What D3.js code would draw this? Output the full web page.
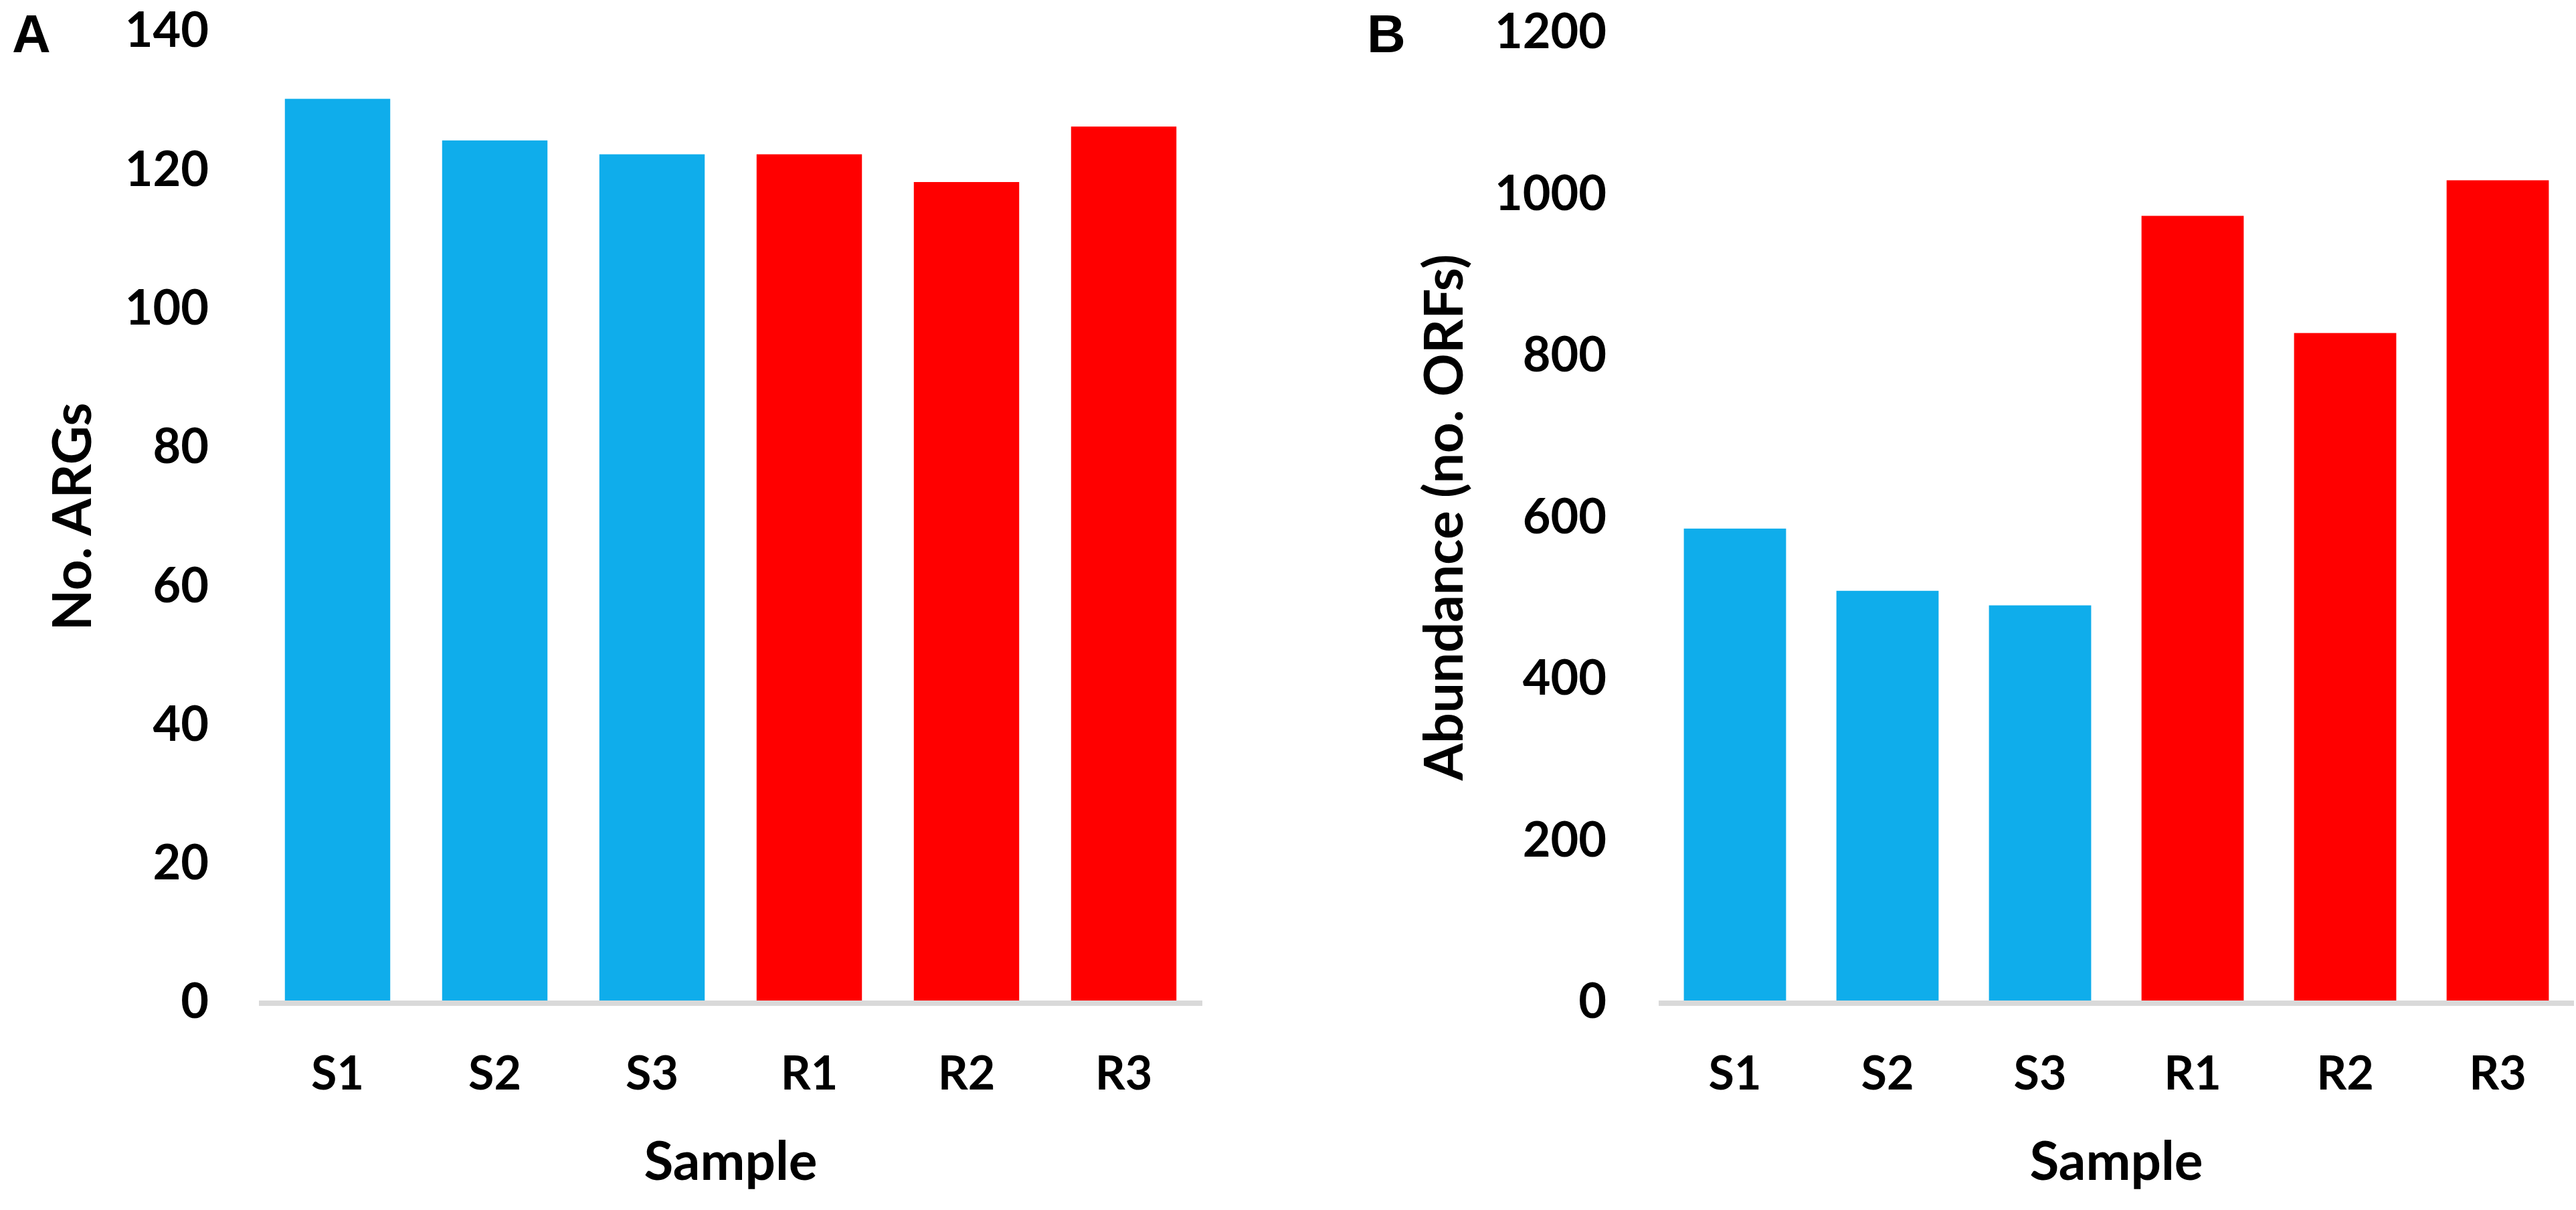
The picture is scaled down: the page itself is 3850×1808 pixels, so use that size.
<!DOCTYPE html>
<html>
<head>
<meta charset="utf-8">
<script src="https://cdn.jsdelivr.net/npm/d3@7"></script>
<style>
  html, body { margin: 0; padding: 0; background: #ffffff; }
  svg { display: block; }
</style>
</head>
<body>
<svg id="chart" width="3850" height="1808"></svg>
<script>
// ---- data ----
const samples = ["S1", "S2", "S3", "R1", "R2", "R3"];
const groups = ["S", "S", "S", "R", "R", "R"];
const argCounts = [130, 124, 122, 122, 118, 126];
const orfAbundance = [584, 507, 489, 971, 826, 1015];
const ticksA = [0, 20, 40, 60, 80, 100, 120, 140];
const ticksB = [0, 200, 400, 600, 800, 1000, 1200];
const panelLetters = ["A", "B"];
const yTitles = ["No. ARGs", "Abundance (no. ORFs)"];
const xTitle = "Sample";

// ---- styling ----
const groupColor = { S: "#0FADEB", R: "#FF0000" };
const FONT = "Lato, 'Open Sans', sans-serif";
const svg = d3.select("#chart");

function panel(cfg) {
  const g = svg.append("g");
  const x = d3.scaleBand().domain(samples).range([cfg.x0, cfg.x1]).paddingInner(0.33).paddingOuter(0.165);
  const y = d3.scaleLinear().domain([0, cfg.max]).range([cfg.yBase, cfg.yTop]);

  // bars
  g.selectAll("rect.bar").data(cfg.values).join("rect")
    .attr("class", "bar")
    .attr("x", (d, i) => x(samples[i]))
    .attr("width", x.bandwidth())
    .attr("y", d => y(d))
    .attr("height", d => y(0) - y(d))
    .attr("fill", (d, i) => groupColor[groups[i]]);

  // baseline
  g.append("line")
    .attr("x1", cfg.x0).attr("x2", cfg.x1)
    .attr("y1", y(0) + 4).attr("y2", y(0) + 4)
    .attr("stroke", "#D9D9D9").attr("stroke-width", 8);

  // y axis
  const ya = g.append("g")
    .attr("transform", `translate(${cfg.labelRight},0)`)
    .call(d3.axisLeft(y).tickValues(cfg.ticks).tickSize(0).tickPadding(0).tickFormat(d3.format("d")));
  ya.select(".domain").remove();
  ya.selectAll("text")
    .attr("font-family", FONT).attr("font-weight", 700).attr("font-size", 72)
    .attr("fill", "#000").attr("x", 0).attr("dy", "0.36em");

  // x axis
  const xa = g.append("g")
    .attr("transform", `translate(0,${y(0)})`)
    .call(d3.axisBottom(x).tickSize(0));
  xa.select(".domain").remove();
  xa.selectAll("text")
    .attr("font-family", FONT).attr("font-weight", 700).attr("font-size", 70)
    .attr("fill", "#000").attr("y", 133).attr("dy", 0);

  // x title
  g.append("text")
    .attr("x", (cfg.x0 + cfg.x1) / 2).attr("y", 1763)
    .attr("text-anchor", "middle")
    .attr("font-family", FONT).attr("font-weight", 700).attr("font-size", 80)
    .attr("fill", "#000").text(xTitle);

  // y title
  g.append("text")
    .attr("transform", `translate(${cfg.yTitleX},${cfg.yTitleY}) rotate(-90)`)
    .attr("text-anchor", "middle")
    .attr("font-family", FONT).attr("font-weight", 700).attr("font-size", 80)
    .attr("fill", "#000").text(cfg.yTitle);

  // panel letter
  g.append("text")
    .attr("x", cfg.letterX).attr("y", 78)
    .attr("font-family", "'Liberation Sans', Arial, sans-serif").attr("font-weight", 700).attr("font-size", 80)
    .attr("fill", "#000").text(cfg.letter);
}

panel({
  values: argCounts, max: 140, ticks: ticksA,
  x0: 387, x1: 1797, yBase: 1495, yTop: 44,
  labelRight: 312, yTitle: yTitles[0], yTitleX: 136, yTitleY: 772,
  letter: panelLetters[0], letterX: 18
});
panel({
  values: orfAbundance, max: 1200, ticks: ticksB,
  x0: 2479, x1: 3847, yBase: 1495, yTop: 46,
  labelRight: 2401, yTitle: yTitles[1], yTitleX: 2186, yTitleY: 773,
  letter: panelLetters[1], letterX: 2043
});
</script>
</body>
</html>
